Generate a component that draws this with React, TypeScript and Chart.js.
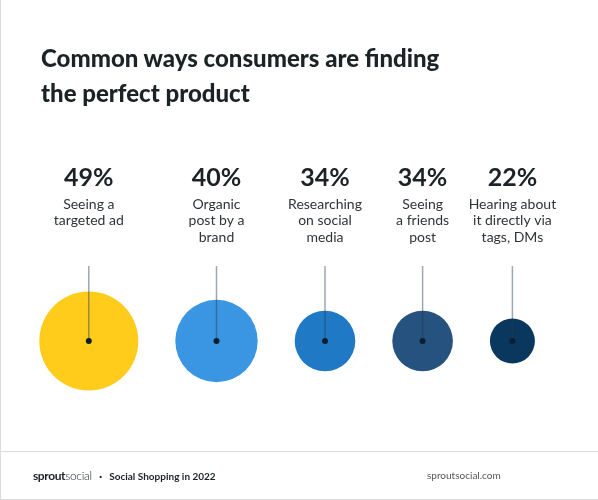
import React, { useEffect, useRef } from "react";
import { Chart, registerables } from "chart.js";

Chart.register(...registerables);

const categories: string[][] = [
  ["Seeing a", "targeted ad"],
  ["Organic", "post by a", "brand"],
  ["Researching", "on social", "media"],
  ["Seeing", "a friends", "post"],
  ["Hearing about", "it directly via", "tags, DMs"],
];
const percentages: number[] = [49, 40, 34, 34, 22];
// bubble radius dimension as drawn in the picture
const bubbleSizes: number[] = [49.5, 41.2, 30.3, 30.3, 22.5];
const bubbleColors: string[] = ["#FFCC1C", "#3A96E2", "#1F79C4", "#25527F", "#0A375D"];

const W = 598;
const H = 500;
const LEFT = 39.3;
const GAP = 37;
const FONT = "Lato, 'Open Sans', sans-serif";

export default function App() {
  const ref = useRef<HTMLCanvasElement | null>(null);

  useEffect(() => {
    document.body.style.margin = "0";
    const canvas = ref.current;
    if (!canvas) return;

    const xs: number[] = [];
    bubbleSizes.forEach((r, i) => {
      if (i === 0) xs.push(LEFT + r);
      else xs.push(xs[i - 1] + bubbleSizes[i - 1] + GAP + r);
    });

    const labelPlugin = {
      id: "labels",
      afterDatasetsDraw(chart: any) {
        const c = chart.ctx;
        const meta = chart.getDatasetMeta(0);
        c.save();
        meta.data.forEach((el: any, i: number) => {
          const x = el.x;
          const y = el.y;
          // stem line
          c.strokeStyle = "rgba(35,60,85,0.45)";
          c.lineWidth = 1.5;
          c.beginPath();
          c.moveTo(x, 266);
          c.lineTo(x, y);
          c.stroke();
          // center dot
          c.fillStyle = "#0B1F33";
          c.beginPath();
          c.arc(x, y, 3, 0, Math.PI * 2);
          c.fill();
          // percentage
          c.textAlign = "center";
          c.textBaseline = "middle";
          c.fillStyle = "#1B2327";
          c.font = `bold 25px ${FONT}`;
          c.fillText(percentages[i] + "%", x, 178);
          c.font = `14px ${FONT}`;
          c.fillStyle = "#2E3438";
          categories[i].forEach((line, j) => {
            c.fillText(line, x, 204 + j * 16.8);
          });
        });
        c.restore();
      },
    };

    const chart = new Chart(canvas, {
      type: "bubble",
      data: {
        datasets: [
          {
            data: percentages.map((p, i) => ({ x: xs[i], y: 0, r: bubbleSizes[i] })),
            backgroundColor: bubbleColors,
            borderWidth: 0,
            hoverBorderWidth: 0,
          },
        ],
      },
      options: {
        responsive: false,
        animation: false,
        devicePixelRatio: 1,
        layout: { autoPadding: false, padding: { top: 262, bottom: 80, left: 0, right: 0 } },
        scales: {
          x: { type: "linear", min: 0, max: W, display: false },
          y: { type: "linear", min: -1, max: 1, display: false },
        },
        plugins: { legend: { display: false }, tooltip: { enabled: false } },
      },
      plugins: [labelPlugin],
    });
    return () => chart.destroy();
  }, []);

  return (
    <div style={{ position: "relative", width: W, height: H, background: "#fff", overflow: "hidden" }}>
      <canvas ref={ref} width={W} height={H} style={{ position: "absolute", left: 0, top: 0 }} />
      <div style={{ position: "absolute", left: 0, top: 0, width: 1, height: H, background: "#DCDCDC" }} />
      <div style={{ position: "absolute", left: 0, top: 451, width: W, height: 1, background: "#DCDCDC" }} />
      <div style={{ position: "absolute", left: 0, top: 499, width: W, height: 1, background: "#DCDCDC" }} />
      <div
        style={{
          position: "absolute",
          left: 41,
          top: 40,
          fontFamily: FONT,
          fontWeight: 900,
          fontSize: 24,
          lineHeight: "35px",
          color: "#1B2327",
          whiteSpace: "nowrap",
        }}
      >
        Common ways consumers are finding
        <br />
        the perfect product
      </div>
      <div
        style={{
          position: "absolute",
          left: 33,
          top: 467,
          fontFamily: FONT,
          fontSize: 12,
          lineHeight: "18px",
          color: "#1B2327",
          whiteSpace: "nowrap",
        }}
      >
        <span style={{ fontWeight: 700, letterSpacing: -0.4 }}>sprout</span>
        <span style={{ fontWeight: 300, letterSpacing: -0.3 }}>social</span>
        <span style={{ margin: "0 7px", fontWeight: 700 }}>·</span>
        <span style={{ fontWeight: 700, fontSize: 10 }}>Social Shopping in 2022</span>
      </div>
      <div
        style={{
          position: "absolute",
          left: 427,
          top: 469,
          fontFamily: FONT,
          fontSize: 10,
          color: "#555",
          whiteSpace: "nowrap",
        }}
      >
        sproutsocial.com
      </div>
    </div>
  );
}
